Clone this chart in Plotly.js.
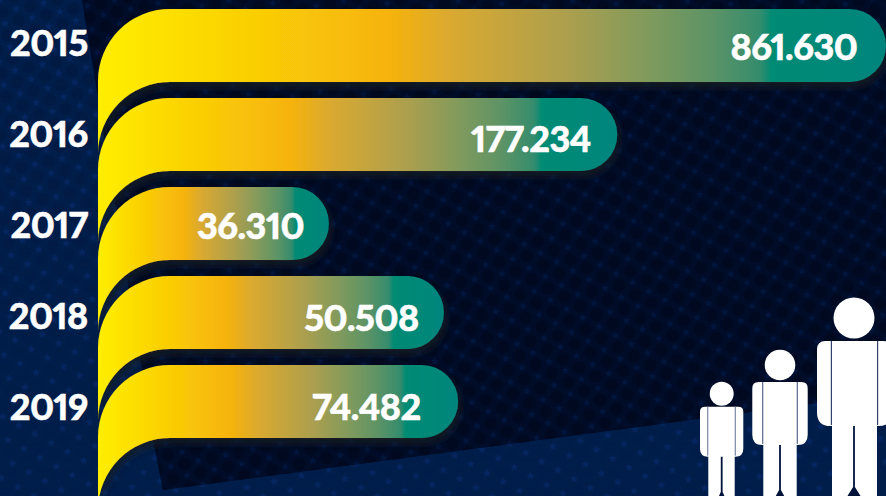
<!DOCTYPE html>
<html>
<head>
<meta charset="utf-8">
<script src="https://cdn.plot.ly/plotly-3.0.1.min.js"></script>
<style>
html,body{margin:0;padding:0;width:886px;height:496px;overflow:hidden;background:#000b27}
#bg{position:absolute;left:0;top:0}
#chart{position:absolute;left:0;top:0;width:886px;height:496px}
#chart text{letter-spacing:-0.5px;font-variant-numeric:proportional-nums;font-feature-settings:"pnum" 1;stroke:#fff;stroke-width:0.5px}
</style>
</head>
<body>
<svg id="bg" width="886" height="496" xmlns="http://www.w3.org/2000/svg"></svg>
<div id="chart"></div>
<script>
// Chart data
const years = ['2015','2016','2017','2018','2019'];
const reportedValues = ['861.630','177.234','36.310','50.508','74.482'];
// The bars in the original are not to scale with the printed numbers:
// these are the bar lengths as drawn, in percent of the longest bar.
const drawnLengths = [100, 65.9, 29.3, 43.9, 45.7];

// Styling
const labelInset = [23, 17, 20, 24, 33];
const labelNudge = [3, 4, 0, 1, -1];

// ---- background ----
function star(cx, cy, r){
  let p = [];
  for(let i=0;i<10;i++){
    const a = -Math.PI/2 + i*Math.PI/5 + 0.2, q = i%2 ? r*0.45 : r;
    p.push((cx+q*Math.cos(a)).toFixed(2)+','+(cy+q*Math.sin(a)).toFixed(2));
  }
  return '<polygon points="'+p.join(' ')+'"/>';
}
function person(cx, headY, headR, armL, armR, top, armB, torsoL, torsoR, flare, sepColor){
  const rt = (armB-top)*0.1, rb = (armB-top)*0.16;
  const body = 'M'+armL+','+(top+rt)+'Q'+armL+','+top+' '+(armL+rt)+','+top+
    'H'+(armR-rt)+'Q'+armR+','+top+' '+armR+','+(top+rt)+
    'V'+(armB-rb)+'Q'+armR+','+armB+' '+(armR-rb)+','+armB+
    'H'+torsoR+'V496H'+torsoL+'V'+armB+'H'+(armL+rb)+
    'Q'+armL+','+armB+' '+armL+','+(armB-rb)+'Z';
  const gap = 'M'+(cx-0.9)+','+armB+'H'+(cx+0.9)+'V'+flare+
    'L'+(cx+(496-flare)*0.8)+',497H'+(cx-(496-flare)*0.8)+'L'+(cx-0.9)+','+flare+'Z';
  return '<circle cx="'+cx+'" cy="'+headY+'" r="'+headR+'" fill="#fff"/>'+
    '<path d="'+body+'" fill="#fff"/>'+
    '<path d="'+gap+'" fill="#02133a"/>'+
    '<rect x="'+(torsoL-1.2)+'" y="'+top+'" width="1.2" height="'+(armB-top-1)+'" fill="'+sepColor+'"/>'+
    '<rect x="'+torsoR+'" y="'+top+'" width="1.2" height="'+(armB-top-1)+'" fill="'+sepColor+'"/>';
}
const starTile = star(0,0,4)+star(28,0,4)+star(0,24,4)+star(28,24,4)+star(14,12,4);
const dotTile = '<circle cx="14" cy="0" r="6.5"/><circle cx="14" cy="24" r="6.5"/><circle cx="0" cy="12" r="6.5"/><circle cx="28" cy="12" r="6.5"/>';
const bgSvg =
 '<defs>'+
 '<pattern id="pStars" width="28" height="24" patternUnits="userSpaceOnUse" patternTransform="rotate(-12)" fill="#052660">'+starTile+'</pattern>'+
 '<pattern id="pStars2" width="28" height="24" patternUnits="userSpaceOnUse" patternTransform="rotate(-12)" fill="#02153c">'+starTile+'</pattern>'+
 '<pattern id="pDots" width="28" height="24" patternUnits="userSpaceOnUse" patternTransform="rotate(-12)" fill="#011a42">'+dotTile+'</pattern>'+
 '<pattern id="pDots2" width="28" height="24" patternUnits="userSpaceOnUse" patternTransform="rotate(-12)" fill="#000920">'+dotTile+'</pattern>'+
 '<linearGradient id="fadeV" x1="0" y1="0" x2="0" y2="1"><stop offset="0" stop-color="#fff"/><stop offset="0.55" stop-color="#fff" stop-opacity="0.45"/><stop offset="1" stop-color="#fff" stop-opacity="0"/></linearGradient>'+
 '<mask id="mDots"><rect width="886" height="496" fill="url(#fadeV)"/></mask>'+
 '<clipPath id="cDark"><path d="M82,0H886V394L163,490L155,450Z"/></clipPath>'+
 '</defs>'+
 '<rect width="886" height="496" fill="#011e4b"/>'+
 '<rect width="886" height="496" fill="url(#pDots)" mask="url(#mDots)"/>'+
 '<rect width="886" height="496" fill="url(#pStars)"/>'+
 '<g clip-path="url(#cDark)"><rect width="886" height="496" fill="#000c28"/>'+
 '<rect width="886" height="496" fill="url(#pDots2)"/>'+
 '<rect width="886" height="496" fill="url(#pStars2)"/></g>'+
 person(854,318,20.5,817,892,341,426,832,877,487,'#33456e')+
 person(780,365,15.3,752.3,807.7,382,445,763.3,796.7,490,'#5a6a8e')+
 person(721.7,393.7,12,700,743.3,406.7,456.7,708.3,734.7,492,'#7c89a6');
document.getElementById('bg').innerHTML = bgSvg;

// ---- chart ----
const white = '#ffffff';
const labelFont = {family:'Lato, "Open Sans", sans-serif', size:36, weight:900, color:white};
const bars = {
  type:'bar', orientation:'h', y:years, x:drawnLengths,
  marker:{color:'#f6b30a', line:{width:0}},
  hoverinfo:'skip', xaxis:'x', yaxis:'y', showlegend:false
};
const yearAxisCarrier = {
  type:'scatter', mode:'none', y:years, x:drawnLengths.map(()=>0),
  xaxis:'x', yaxis:'y2', hoverinfo:'skip', showlegend:false
};
const annotations = years.map((yr,i)=>({
  xref:'x', yref:'y2', x:drawnLengths[i], y:i, text:reportedValues[i],
  xanchor:'right', yanchor:'middle', showarrow:false, font:labelFont,
  xshift:-labelInset[i], yshift:-labelNudge[i]
}));
const layout = {
  width:886, height:496,
  margin:{l:98,r:0,t:0,b:0,pad:0},
  paper_bgcolor:'rgba(0,0,0,0)', plot_bgcolor:'rgba(0,0,0,0)',
  bargap:0.18, showlegend:false,
  xaxis:{range:[0,100], visible:false, fixedrange:true},
  yaxis:{type:'category', categoryorder:'array', categoryarray:years,
         range:[5.062,-0.511], showticklabels:false, ticks:'', showgrid:false, zeroline:false, fixedrange:true},
  yaxis2:{type:'category', categoryorder:'array', categoryarray:years, overlaying:'y', side:'left',
         range:[4.978,-0.4725], showgrid:false, zeroline:false, showline:false,
         ticks:'outside', ticklen:2, tickcolor:'rgba(0,0,0,0)', tickfont:labelFont, fixedrange:true},
  annotations
};
Plotly.newPlot('chart',[bars,yearAxisCarrier],layout,{displayModeBar:false,staticPlot:true}).then(gd=>{
  const svg = gd.querySelector('.main-svg');
  const NS = 'http://www.w3.org/2000/svg';
  let defs = svg.querySelector('defs');
  const grad = document.createElementNS(NS,'linearGradient');
  grad.id='barGrad';
  [[0,'#ffee00'],[0.37,'#f6b30a'],[0.44,'#dcaa2e'],[0.595,'#ac9f4e'],[0.70,'#7f9a5d'],[0.78,'#5c9366'],[0.84,'#348c6d'],[0.855,'#008b74'],[1,'#00857c']].forEach(s=>{
    const st=document.createElementNS(NS,'stop');
    st.setAttribute('offset',s[0]); st.setAttribute('stop-color',s[1]); grad.appendChild(st);
  });
  defs.appendChild(grad);
  const f = document.createElementNS(NS,'filter');
  f.id='barShadow';
  f.setAttribute('x','-10%');f.setAttribute('y','-30%');f.setAttribute('width','120%');f.setAttribute('height','170%');
  f.innerHTML='<feDropShadow dx="2" dy="5" stdDeviation="5" flood-color="#191a22" flood-opacity="0.95"/>';
  defs.appendChild(f);
  // Reshape each bar the library has placed: pill at the end, sweep at the start.
  gd.querySelectorAll('.barlayer .point path').forEach(path=>{
    const b = path.getBBox();
    const x0=b.x, x1=b.x+b.width, t=b.y, h=b.height, y1=t+h, rc=h-1, re=h/2;
    path.setAttribute('d',
      'M'+x0+','+(t+rc)+'A'+rc+','+rc+' 0 0 1 '+(x0+rc)+','+t+
      'H'+(x1-re)+'A'+re+','+re+' 0 0 1 '+(x1-re)+','+y1+
      'H'+(x0+rc)+'A'+rc+','+rc+' 0 0 0 '+x0+','+(y1+rc)+'Z');
    path.style.fill='url(#barGrad)';
    path.style.filter='url(#barShadow)';
  });
});
</script>
</body>
</html>
